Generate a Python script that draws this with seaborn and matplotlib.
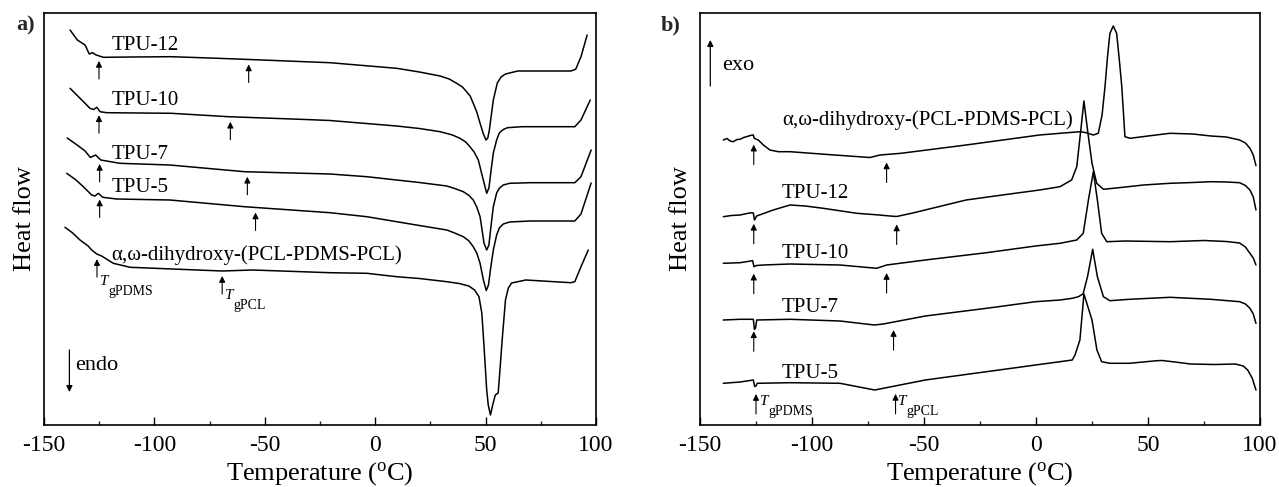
import numpy as np
import matplotlib
matplotlib.use("Agg")
import matplotlib.pyplot as plt
from matplotlib.ticker import MultipleLocator
import seaborn as sns

# ---- values: temperature (degC) and heat flow (arb. units) ----

# panel a) heating scans
a_T_tpu12 = [-138.2, -134.9, -131.4, -129.5, -128.0, -126.4, -123.1, -110.0, -92.4, -75.0, -59.2, -40.0,
             -20.5, 9.7, 20.0, 29.4, 33.5, 36.9, 39.5, 41.4, 43.0, 44.4, 46.0, 47.5, 49.0, 50.2, 51.0,
             51.7, 53.5, 55.3, 57.0, 59.0, 64.6, 75.0, 88.6, 90.8, 93.2, 96.0]
a_hf_tpu12 = [395, 385, 380, 371, 372.3, 370, 367.7, 368, 368.3, 367, 365.7, 364, 362.3, 356.7, 353, 349,
              346, 341.7, 338, 333.3, 329, 321.7, 313, 301.7, 291, 285, 287, 295, 325, 342, 348, 351,
              354, 354, 354, 355.7, 368.3, 390]

a_T_tpu10 = [-138.2, -131.4, -129.2, -127.5, -126.1, -124.6, -121.6, -92.4, -66.5, -31.5, -20.5, 9.7,
             20.0, 29.4, 35.0, 38.4, 41.0, 42.9, 44.8, 46.7, 48.5, 50.5, 51.5, 52.5, 53.5, 55.0, 56.2,
             58.0, 59.9, 66.4, 80.0, 90.4, 93.2, 97.4]
a_hf_tpu10 = [336.7, 321.7, 316.7, 315.5, 317.7, 313.3, 312.3, 311.7, 308.3, 305.5, 304.5, 299, 296.5,
              293.3, 290, 286.7, 283, 278.3, 273, 265, 249, 231.7, 237, 255, 272, 285, 292, 295.5, 297.3,
              298.3, 298.3, 298.3, 305, 325]

a_T_tpu7 = [-139.5, -135.0, -131.4, -129.0, -126.6, -124.3, -115.6, -93.0, -59.2, -20.5, -3.8, 9.7, 20.0,
            32.4, 36.0, 39.9, 42.5, 44.4, 46.0, 47.5, 49.3, 50.5, 51.5, 52.5, 53.5, 55.0, 56.2, 58.0, 60.9,
            70.1, 90.4, 93.2, 97.8]
a_hf_tpu7 = [287, 280, 274, 267.5, 270, 265, 261.7, 260, 253.3, 251, 248.3, 245, 242.5, 239, 236.5, 233.3,
             229.5, 225, 218, 208.3, 181.7, 175, 180, 200, 218.3, 232, 236.7, 240, 241.7, 242.3, 242.3,
             248.3, 275]

a_T_tpu5 = [-139.7, -135.5, -132.2, -128.4, -126.9, -125.4, -123.4, -117.1, -93.0, -59.2, -20.5, -3.8, 9.7,
            20.0, 32.4, 36.0, 39.9, 42.5, 44.4, 46.0, 47.5, 49.0, 50.3, 51.3, 52.3, 53.5, 55.0, 56.2, 58.0,
            60.9, 70.0, 90.4, 93.2, 97.8]
a_hf_tpu5 = [251.7, 245, 238.3, 230, 229, 231.7, 227.7, 226, 225, 218.3, 212.3, 208.3, 203.3, 199.5, 195,
             192, 188.3, 184, 178.3, 172, 161.7, 145, 134.5, 140, 157, 175, 190, 197, 201, 203, 204, 204,
             211, 242]

a_T_diol = [-140.5, -137.0, -133.7, -130.0, -128.4, -126.1, -123.9, -121.0, -118.6, -111.0, -99.8, -69.3,
            -55.5, -20.5, -3.8, 9.7, 20.0, 32.4, 38.0, 42.4, 45.0, 47.0, 48.3, 49.3, 50.5, 51.2, 52.2, 53.2,
            54.4, 55.7, 56.5, 57.5, 59.0, 60.3, 61.8, 68.2, 88.6, 90.4, 93.2, 96.5]
a_hf_diol = [197.7, 192, 185, 179, 175, 171, 169, 165, 161.7, 157.7, 156.7, 154, 155, 152.3, 151.7, 148.3,
             146.5, 143.3, 141.5, 139, 135, 128.3, 111.7, 78.3, 35, 20, 10, 20, 30, 32, 55, 85, 125, 137,
             142, 145, 142.3, 143.3, 158.3, 175]

# panel b) cooling scans
b_T_diol = [-139.6, -138.0, -136.5, -135.1, -133.5, -132.1, -130.5, -129.2, -127.5, -126.2, -125.8, -124.0,
            -121.7, -118.8, -115.0, -109.8, -90.0, -74.1, -69.6, -60.3, -31.2, 1.6, 10.7, 19.8, 22.0, 25.6,
            27.8, 29.5, 30.8, 32.0, 33.0, 34.5, 36.0, 37.2, 38.3, 39.1, 39.7, 42.0, 50.0, 59.8, 70.0, 78.1,
            85.0, 90.9, 93.5, 95.5, 97.0, 98.2]
b_hf_diol = [285, 286.5, 284, 283.3, 285.5, 285.7, 287.5, 288.3, 289.5, 290, 286.7, 285, 280, 275, 273.3,
             273.3, 270, 267.5, 270, 271.7, 280, 290, 291.7, 293.3, 292.5, 290, 291.7, 310, 338.3, 370,
             391.7, 399, 391.7, 365, 338.3, 310, 288.3, 286.7, 289, 291.7, 291, 289, 288, 285, 282, 276.7,
             270, 259.3]

b_T_tpu12 = [-139.6, -136.0, -132.1, -129.0, -126.9, -126.2, -125.7, -124.7, -121.0, -117.3, -109.8, -103.0,
             -95.0, -80.0, -70.0, -65.2, -62.2, -55.0, -31.2, -15.0, 1.6, 10.7, 15.9, 18.2, 20.0, 21.4,
             23.0, 25.0, 27.1, 30.1, 40.0, 48.0, 59.8, 70.0, 78.0, 85.0, 90.9, 93.5, 95.5, 97.0, 98.2]
b_hf_tpu12 = [208.3, 209.5, 210, 211.5, 212.3, 212, 205, 209, 212, 215, 220, 219, 216.7, 211.7, 210, 209,
              208.5, 212, 225, 230, 235, 238.3, 245, 258.3, 295, 324, 295, 261.7, 241.7, 235.7, 238, 240,
              241.7, 242.5, 243.3, 243, 242.3, 239.5, 235, 228, 215]

b_T_tpu10 = [-139.6, -132.1, -126.5, -125.9, -124.8, -121.7, -109.8, -87.5, -71.1, -66.7, -49.4, -22.1,
             -0.2, 10.7, 18.2, 21.1, 23.4, 25.6, 27.4, 29.3, 31.6, 40.0, 59.8, 75.0, 85.0, 90.9, 93.5, 95.5,
             97.0, 98.2]
b_hf_tpu10 = [161.7, 162.3, 164.3, 158.3, 159.5, 160, 161, 160, 156.7, 160, 165, 172.3, 179, 181.7, 185,
              191.7, 225, 253.3, 225, 191.7, 183.3, 184, 183.3, 184.5, 183.5, 182, 178, 171.7, 167, 160]

b_T_tpu7 = [-139.6, -132.1, -126.2, -125.7, -125.2, -124.7, -109.8, -87.5, -72.2, -68.2, -49.4, -22.1, -0.2,
            10.7, 16.2, 18.9, 21.0, 23.0, 25.3, 27.4, 30.1, 33.0, 41.7, 59.9, 78.1, 90.9, 93.5, 95.5, 97.0,
            98.2]
b_hf_tpu7 = [105, 105.7, 105.7, 95.7, 97, 105, 105.7, 104, 100, 101, 109, 116.7, 123.3, 125, 126.7, 128.3,
             131, 148.3, 175.7, 148.3, 128.3, 124.3, 125.7, 127.7, 125.7, 123.3, 121, 116.7, 111, 101.7]

b_T_tpu5 = [-139.6, -132.1, -126.2, -125.6, -125.0, -124.5, -109.8, -87.5, -72.0, -49.4, -22.1, -0.2, 10.7,
            16.2, 17.4, 19.6, 21.4, 23.2, 25.0, 27.2, 29.3, 33.0, 41.7, 53.9, 56.3, 62.0, 69.0, 80.0, 89.0,
            92.5, 94.5, 96.5, 98.2]
b_hf_tpu5 = [41.7, 43, 45, 38.5, 39, 41.7, 42.3, 41.7, 35, 45, 53.3, 60, 63.3, 65, 70, 85, 131, 118, 105,
             75, 63.3, 61.7, 61.7, 64.3, 64.5, 63, 61, 60.5, 61, 59, 55, 47, 35]

# sample names and glass transitions marked by arrows
a_names = ["TPU-12", "TPU-10", "TPU-7", "TPU-5", "α,ω-dihydroxy-(PCL-PDMS-PCL)"]
a_tg_pdms = [-125.1, -125.1, -124.8, -124.8, -126.0]
a_tg_pcl = [-57.3, -65.6, -57.9, -54.2, -69.3]

b_names = ["α,ω-dihydroxy-(PCL-PDMS-PCL)", "TPU-12", "TPU-10", "TPU-7", "TPU-5"]
b_tg_pdms = [-126.0, -126.0, -126.0, -126.0, -125.0]
b_tg_pcl = [-66.7, -62.2, -66.7, -63.6, -62.7]

a_curves = [(a_T_tpu12, a_hf_tpu12), (a_T_tpu10, a_hf_tpu10), (a_T_tpu7, a_hf_tpu7),
            (a_T_tpu5, a_hf_tpu5), (a_T_diol, a_hf_diol)]
b_curves = [(b_T_diol, b_hf_diol), (b_T_tpu12, b_hf_tpu12), (b_T_tpu10, b_hf_tpu10),
            (b_T_tpu7, b_hf_tpu7), (b_T_tpu5, b_hf_tpu5)]

# label placement (layout only)
a_label_y = [380, 325, 271, 237, 170]
b_label_y = [305, 232, 172, 117, 52]

sns.set_theme(style="ticks")
plt.rcParams["font.family"] = ["Liberation Serif", "DejaVu Serif"]
plt.rcParams["mathtext.fontset"] = "custom"
plt.rcParams["mathtext.rm"] = "Liberation Serif"
plt.rcParams["mathtext.it"] = "Liberation Serif:italic"
plt.rcParams["axes.unicode_minus"] = False

fig = plt.figure(figsize=(12.79, 4.87), dpi=100)
ax_a = fig.add_axes([44 / 1279, 62 / 487, 552 / 1279, 412 / 487])
ax_b = fig.add_axes([700 / 1279, 62 / 487, 560 / 1279, 412 / 487])


def arrow(ax, x, y_head, y_tail, lw=0.8):
    ax.annotate("", xy=(x, y_head), xytext=(x, y_tail),
                arrowprops=dict(arrowstyle="-|>", color="black", lw=lw,
                                mutation_scale=9, shrinkA=0, shrinkB=0))


def tg_label(ax, x, y, sub):
    ax.text(x, y, "T", fontsize=11, style="italic", ha="left", va="bottom", color="black")
    ax.annotate(sub, xy=(x, y), xytext=(6, -7), textcoords="offset points",
                fontsize=10, ha="left", va="bottom", color="black")


def draw_panel(ax, curves, names, label_y, tg_pdms, tg_pcl, label_x, gap, length):
    for (T, hf), name, ly, t1, t2 in zip(curves, names, label_y, tg_pdms, tg_pcl):
        sns.lineplot(x=T, y=hf, ax=ax, color="black", linewidth=1.1,
                     estimator=None, sort=False, legend=False)
        ax.text(label_x, ly, name, fontsize=15, ha="left", va="center", color="black")
        for tg in (t1, t2):
            head = np.interp(tg, T, hf) - gap
            arrow(ax, tg, head, head - length)

    ax.set_xlim(-150, 100)
    ax.set_ylim(0, 412)
    ax.set_yticks([])
    ax.xaxis.set_major_locator(MultipleLocator(50))
    ax.xaxis.set_minor_locator(MultipleLocator(25))
    ax.tick_params(axis="x", which="major", direction="in", length=6, width=1.0,
                   labelsize=17, pad=7, colors="black")
    ax.tick_params(axis="x", which="minor", direction="in", length=3, width=1.0)
    for s in ax.spines.values():
        s.set_visible(True)
        s.set_linewidth(1.2)
        s.set_color("black")
    ax.set_xlabel("Temperature ($^{\\rm o}$C)", fontsize=19, labelpad=3, color="black")
    ax.set_ylabel("Heat flow", fontsize=19, labelpad=6, color="black")


draw_panel(ax_a, a_curves, a_names, a_label_y, a_tg_pdms, a_tg_pcl, -119.5, gap=5, length=18)
draw_panel(ax_b, b_curves, b_names, b_label_y, b_tg_pdms, b_tg_pcl, -113.5, gap=8, length=20)

# transition labels under the lowest curves
tg_label(ax_a, -124.5, 137, "gPDMS")
tg_label(ax_a, -68.0, 123, "gPCL")
tg_label(ax_b, -123.0, 17, "gPDMS")
tg_label(ax_b, -61.5, 17, "gPCL")

# endo / exo direction marks
arrow(ax_a, -138.5, 33, 75, lw=0.9)
ax_a.text(-136.0, 60, "endo", fontsize=16, ha="left", va="center", color="black")
arrow(ax_b, -145.4, 385, 339, lw=0.9)
ax_b.text(-140.0, 360, "exo", fontsize=16, ha="left", va="center", color="black")

fig.text(26 / 1279, 1 - 25 / 487, "a)", fontsize=16, fontweight="bold", ha="center", va="center")
fig.text(671 / 1279, 1 - 25 / 487, "b)", fontsize=16, fontweight="bold", ha="center", va="center")

fig.savefig("out.png", dpi=100)
